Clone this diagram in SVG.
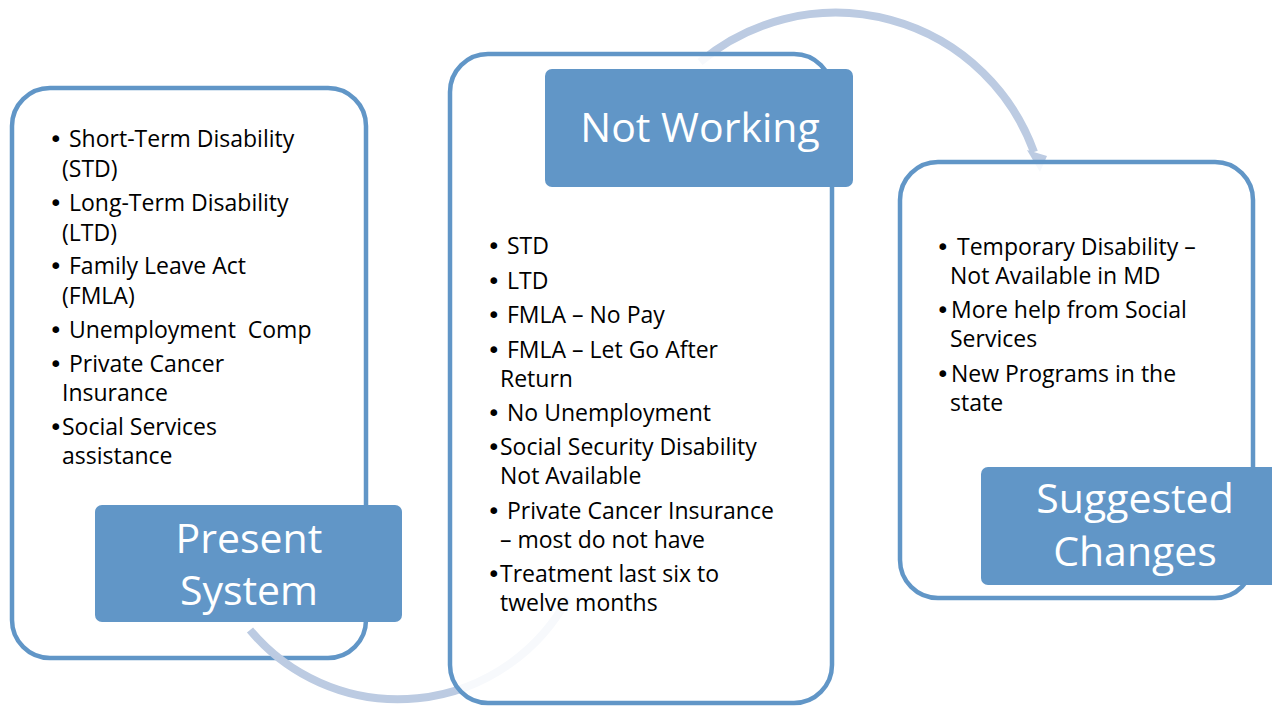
<svg xmlns="http://www.w3.org/2000/svg" width="1272" height="707" viewBox="0 0 1272 707">
<style>
.box{fill:#ffffff;fill-opacity:0.88;stroke:#6196c7;stroke-width:4.5}
.lab{fill:#6196c7}
.t{font-family:"Open Sans","Noto Sans","Liberation Sans",sans-serif;font-size:23px;fill:#000000}
.b{font-family:"DejaVu Sans","Liberation Sans",sans-serif;font-size:23px}
.lt{font-family:"Open Sans","Noto Sans","Liberation Sans",sans-serif;font-size:41px;fill:#ffffff;text-anchor:middle}
.arc{fill:none;stroke:#bccbe2;stroke-width:8}
</style>
<rect x="0" y="0" width="1272" height="707" fill="#ffffff"/>
<g id="present-system">
<rect class="box" x="12" y="88" width="354" height="570" rx="38" ry="38"/>
<text class="t" xml:space="preserve"><tspan class="b" x="49" y="147">• </tspan><tspan x="69" y="147">Short-Term Disability</tspan><tspan x="62" y="177">(STD)</tspan><tspan class="b" x="49" y="211">• </tspan><tspan x="69" y="211">Long-Term Disability</tspan><tspan x="62" y="241">(LTD)</tspan><tspan class="b" x="49" y="274">• </tspan><tspan x="69" y="274">Family Leave Act</tspan><tspan x="62" y="304">(FMLA)</tspan><tspan class="b" x="49" y="338">• </tspan><tspan x="69" y="338">Unemployment  Comp</tspan><tspan class="b" x="49" y="372">• </tspan><tspan x="69" y="372">Private Cancer</tspan><tspan x="62" y="401">Insurance</tspan><tspan class="b" x="49" y="435">•</tspan><tspan x="62" y="435">Social Services</tspan><tspan x="62" y="464">assistance</tspan></text>
<rect class="lab" x="95" y="505" width="307" height="117" rx="7" ry="7"/>
<text class="lt"><tspan x="249" y="553">Present</tspan><tspan x="249" y="605">System</tspan></text>
</g>
<g id="connectors">
<path class="arc" d="M 250 630 A 193 193 0 0 0 568 598"/>
<path class="arc" d="M 700 62 A 211 211 0 0 1 1034 152"/>
<polygon points="1027,150 1047,156 1040,172" fill="#bccbe2"/>
</g>
<g id="not-working">
<rect class="box" x="450" y="54" width="382" height="649" rx="38" ry="38"/>
<text class="t" xml:space="preserve"><tspan class="b" x="487" y="254">• </tspan><tspan x="507" y="254">STD</tspan><tspan class="b" x="487" y="289">• </tspan><tspan x="507" y="289">LTD</tspan><tspan class="b" x="487" y="323">• </tspan><tspan x="507" y="323">FMLA – No Pay</tspan><tspan class="b" x="487" y="358">• </tspan><tspan x="507" y="358">FMLA – Let Go After</tspan><tspan x="500" y="387">Return</tspan><tspan class="b" x="487" y="421">• </tspan><tspan x="507" y="421">No Unemployment</tspan><tspan class="b" x="487" y="455">•</tspan><tspan x="500" y="455">Social Security Disability</tspan><tspan x="500" y="484">Not Available</tspan><tspan class="b" x="487" y="519">• </tspan><tspan x="507" y="519">Private Cancer Insurance</tspan><tspan x="500" y="548">– most do not have</tspan><tspan class="b" x="487" y="582">•</tspan><tspan x="500" y="582">Treatment last six to</tspan><tspan x="500" y="611">twelve months</tspan></text>
<rect class="lab" x="545" y="69" width="308" height="118" rx="7" ry="7"/>
<text class="lt" x="700" y="142">Not Working</text>
</g>
<g id="suggested-changes">
<rect class="box" x="900" y="162" width="353" height="436" rx="38" ry="38"/>
<text class="t" xml:space="preserve"><tspan class="b" x="936" y="255">• </tspan><tspan x="957" y="255">Temporary Disability –</tspan><tspan x="950" y="284">Not Available in MD</tspan><tspan class="b" x="936" y="318">•</tspan><tspan x="951" y="318">More help from Social</tspan><tspan x="950" y="347">Services</tspan><tspan class="b" x="936" y="382">•</tspan><tspan x="951" y="382">New Programs in the</tspan><tspan x="950" y="411">state</tspan></text>
<rect class="lab" x="981" y="467" width="320" height="118" rx="7" ry="7"/>
<text class="lt"><tspan x="1135" y="513">Suggested</tspan><tspan x="1135" y="566">Changes</tspan></text>
</g>
</svg>
